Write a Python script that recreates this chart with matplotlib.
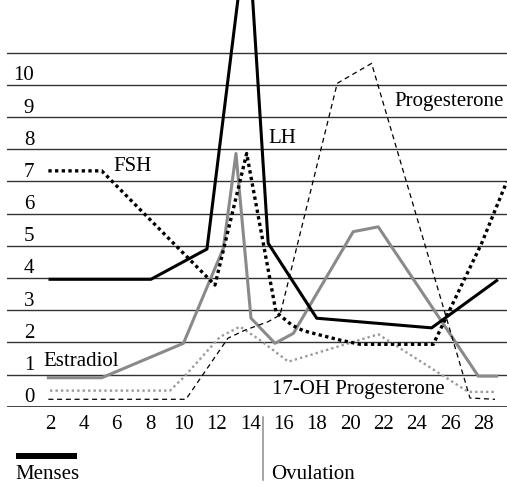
import matplotlib
matplotlib.use("Agg")
import matplotlib.pyplot as plt

# cycle day / level (in grid-line units)
lh_day = [2, 8.05, 11.41, 13.85, 15.08, 17.99, 24.88, 28.78]
lh_val = [3.96, 3.96, 4.9, 15.1, 5.08, 2.75, 2.45, 3.92]

fsh_day = [1.9, 5.1, 11.89, 13.79, 15.55, 16.49, 17.19, 19.39, 20.59, 24.98, 27.88, 29.38]
fsh_val = [7.33, 7.33, 3.78, 7.87, 2.94, 2.54, 2.36, 2.07, 1.94, 1.94, 5.08, 6.99]

estradiol_day = [1.9, 5.1, 10.0, 12.39, 13.15, 14.05, 15.49, 16.59, 20.18, 21.68, 27.68, 28.78]
estradiol_val = [0.9, 0.9, 1.97, 4.92, 7.87, 2.75, 1.97, 2.28, 5.44, 5.59, 0.95, 0.95]

prog_day = [1.9, 10.15, 12.67, 13.69, 15.07, 15.79, 19.22, 21.28, 27.18, 28.68]
prog_val = [0.23, 0.23, 2.13, 2.38, 2.64, 2.85, 10.05, 10.67, 0.27, 0.23]

ohp_day = [2.0, 9.19, 9.97, 12.19, 13.39, 14.59, 16.29, 21.68, 27.08, 28.68]
ohp_val = [0.5, 0.5, 0.89, 2.17, 2.49, 2.07, 1.40, 2.25, 0.46, 0.46]

grid_levels = list(range(12))
y_labels = [str(k) for k in range(11)]
x_ticks = list(range(2, 29, 2))

plt.rcParams["font.family"] = ["Liberation Serif", "DejaVu Serif"]
FS = 15

fig = plt.figure(figsize=(5.07, 4.87), dpi=100)
ax = fig.add_axes([7 / 507, 1 - 406.7 / 487, 500 / 507, 406.7 / 487])
ax.set_xlim(-0.58, 29.4)
ax.set_ylim(0, 12.64)
for s in ax.spines.values():
    s.set_visible(False)
ax.set_yticks([])
ax.set_xticks(x_ticks)
ax.set_xticklabels([str(t) for t in x_ticks], fontsize=FS)
ax.tick_params(axis="x", length=0, pad=6)

for k in grid_levels:
    ax.axhline(k, color="#333333", lw=1.0 if k else 1.3, zorder=1)
for k, lab in enumerate(y_labels):
    ax.text(1.05, k + 0.28, lab, fontsize=FS, ha="right", va="center")

ax.plot(estradiol_day, estradiol_val, color="#8a8a8a", lw=2.2, zorder=3)
ax.plot(ohp_day, ohp_val, color="#9a9a9a", lw=1.7, ls=(0, (1, 1.3)), zorder=3)
ax.plot(prog_day, prog_val, color="black", lw=0.9, ls=(0, (4, 3)), zorder=4)
ax.plot(fsh_day, fsh_val, color="black", lw=2.4, ls=(0, (1, 1)), zorder=5)
ax.plot(lh_day, lh_val, color="black", lw=2.2, zorder=6)

ax.text(5.78, 7.46, "FSH", fontsize=FS, va="center")
ax.text(15.09, 8.34, "LH", fontsize=FS, va="center")
ax.text(22.62, 9.48, "Progesterone", fontsize=FS, va="center")
ax.text(1.6, 1.40, "Estradiol", fontsize=FS, va="center")
ax.text(15.29, 0.52, "17-OH Progesterone", fontsize=FS, va="center")

# menses bar and ovulation marker below the axis
ax.plot([-0.04, 3.6], [-1.53, -1.53], color="black", lw=4.3, solid_capstyle="butt", clip_on=False)
ax.text(-0.1, -2.12, "Menses", fontsize=FS, va="center", clip_on=False)
ax.plot([14.79, 14.79], [-0.31, -2.28], color="#8a8a8a", lw=1.1, clip_on=False)
ax.text(15.23, -2.12, "Ovulation", fontsize=FS, va="center", clip_on=False)

fig.savefig("out.png", dpi=100)
